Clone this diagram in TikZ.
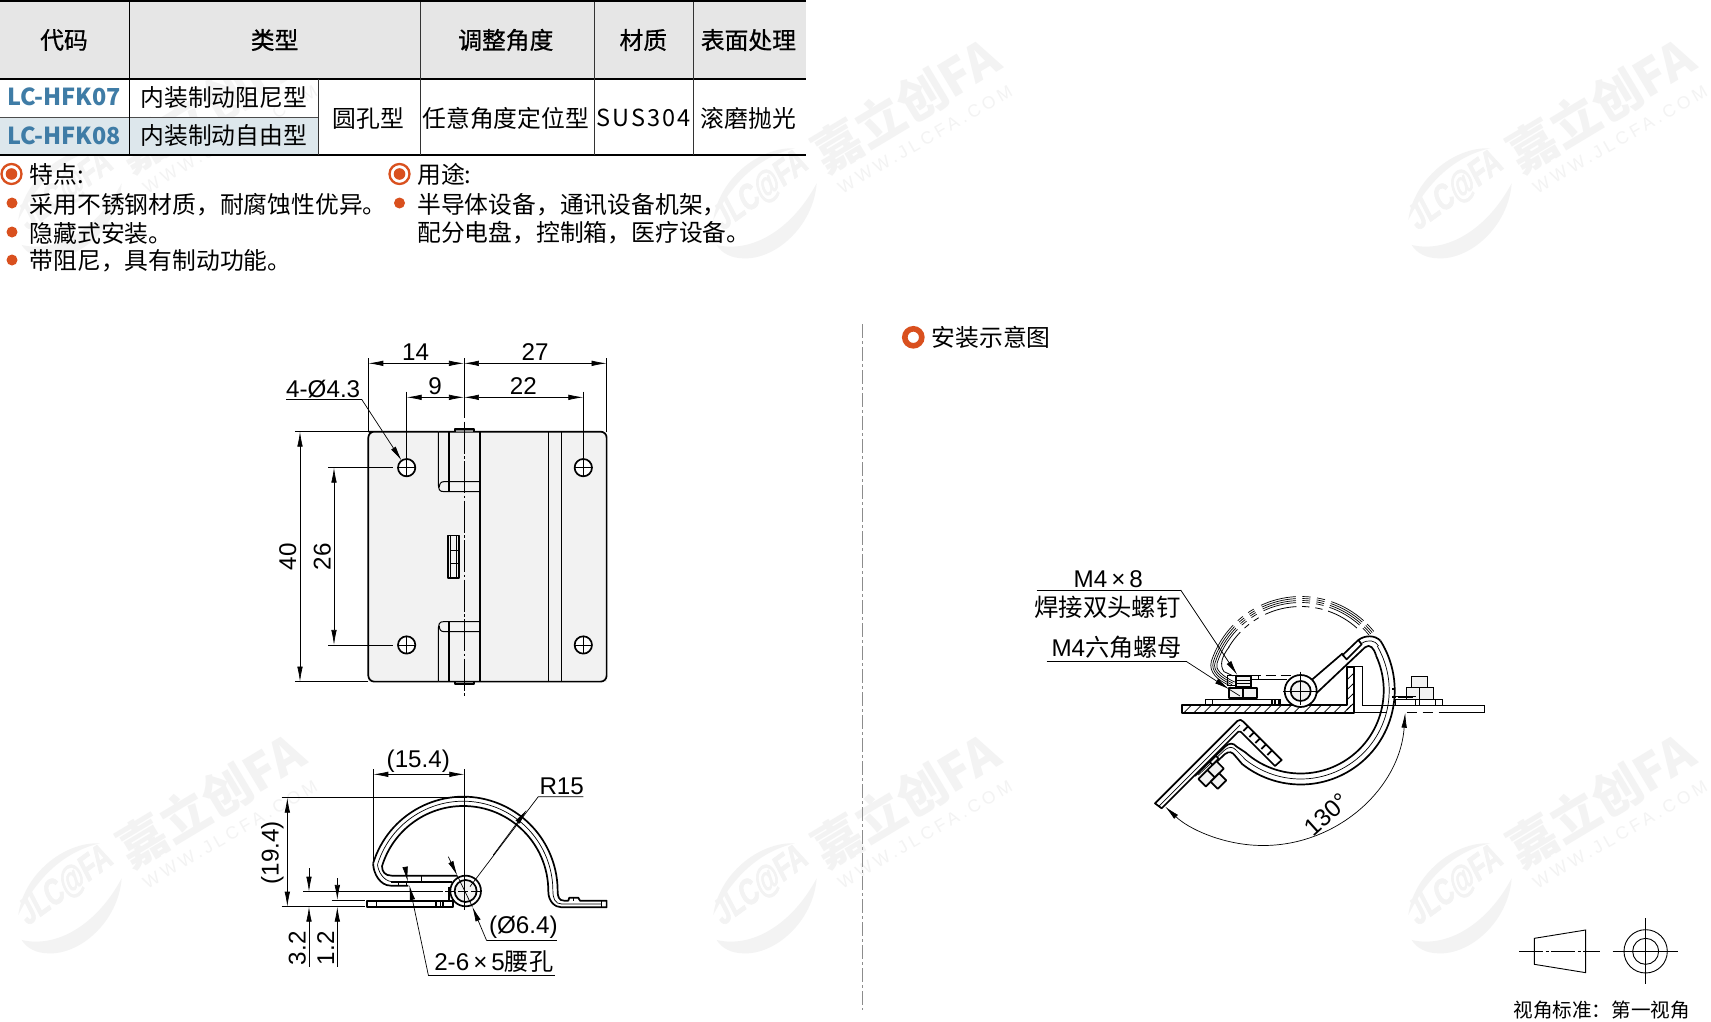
\documentclass[tikz,border=0pt]{standalone}
\usepackage{fontspec}
\setmainfont{Liberation Sans}
\newfontfamily\cjk{Noto Sans CJK SC}
\newfontfamily\cjkmed[FakeBold=0.7]{Noto Sans CJK SC}
\newfontfamily\cjkwide[LetterSpace=9]{Noto Sans CJK SC}
\newfontfamily\jlcfont[FakeStretch=0.72,FakeSlant=0.15,FakeBold=1.5]{Liberation Sans}
\newfontfamily\urlfont[LetterSpace=22]{Liberation Sans}
\usetikzlibrary{arrows.meta}
\definecolor{headgrey}{HTML}{E6E6E6}
\definecolor{rowblue}{HTML}{DDE7EC}
\definecolor{codeblue}{HTML}{3F7CA6}
\definecolor{dotorange}{HTML}{D9501E}
\definecolor{markgrey}{HTML}{F3F3F3}
\definecolor{platefill}{HTML}{F2F2F2}
\tikzset{
    zoomed/.style 2 args={shift={(#1,#2)},scale=0.3333},
    part/.style={line width=1.7pt,line join=round},
    thinpart/.style={line width=0.7pt},
    dimline/.style={line width=0.7pt},
    dimarrow/.style={dimline,-{Latex[length=15pt,width=5.5pt]}},
    dimboth/.style={dimline,{Latex[length=15pt,width=5.5pt]}-{Latex[length=15pt,width=5.5pt]}},
    dimtext/.style={inner sep=0pt,font=\fontsize{24.2}{24}\selectfont},
    cjktext/.style={inner sep=0pt,font=\cjk\fontsize{23.8}{24}\selectfont},
    labeltext/.style={inner sep=0pt,font=\cjk\fontsize{24.4}{25}\selectfont},
    headtext/.style={inner sep=0pt,font=\cjkmed\fontsize{23.8}{24}\selectfont},
    listtext/.style={cjktext,anchor=west},
    codetext/.style={inner sep=0pt,text=codeblue,font=\cjk\bfseries\fontsize{23.4}{24}\selectfont},
    listdot/.style={fill=dotorange,draw=none},
}
\newcommand{\jlcmark}[2]{%
    \begin{scope}[shift={(#1,#2)},scale=0.3333]
      \fill[markgrey] (85,600) .. controls (100,480) and (220,380) .. (330,385)
        .. controls (220,410) and (140,490) .. cycle;
      \fill[markgrey] (95,675) .. controls (200,700) and (320,630) .. (395,490)
        .. controls (385,620) and (270,720) .. (175,715)
        .. controls (140,715) and (110,700) .. cycle;
      \node[rotate=36,inner sep=0pt,text=markgrey,font=\jlcfont\bfseries\fontsize{36}{36}\selectfont] at (225,515) {JLC@FA};
      \node[rotate=31,inner sep=0pt,text=markgrey,font=\cjk\bfseries\fontsize{49}{49}\selectfont] at (662,256) {嘉立创FA};
      \node[rotate=30,inner sep=0pt,text=markgrey,font=\urlfont\fontsize{17.5}{18}\selectfont] at (720,358) {WWW.JLCFA.COM};
    \end{scope}%
}

\begin{document}
\begin{tikzpicture}[x=1pt,y=1pt,yscale=-1]
    \useasboundingbox (0,0) rectangle (1711,1022);
    \fill[white] (0,0) rectangle (1711,1022);
    % watermarks
    \foreach \wx in {-10,685,1380} {
      \foreach \wy in {20,715} {
        \jlcmark{\wx}{\wy}
      }
    }
    %
    % table
    \fill[headgrey] (0,2) rectangle (805.5,79);
    \fill[rowblue] (0,118) rectangle (318.5,155);
    \draw[line width=2pt] (0,1.5) -- (805.5,1.5);
    \draw[line width=2.4pt] (0,79) -- (805.5,79);
    \draw[line width=2pt] (0,155.5) -- (805.5,155.5);
    \draw[thinpart,black!70] (0,117.7) -- (318.5,117.7);
    \draw[line width=1.5pt] (129.7,2) -- (129.7,155);
    \foreach \cx in {420.5,594.7,693.5} {
      \draw[line width=0.8pt,black!80] (\cx,2) -- (\cx,155);
    }
    \draw[line width=0.8pt,black!80] (318.5,79) -- (318.5,155);
    %
    \node[headtext] (headcode) at (64,40) {代码};
    \node[headtext] (headtype) at (274.6,40) {类型};
    \node[headtext] (headangle) at (505.8,40) {调整角度};
    \node[headtext] (headmat) at (643.3,40) {材质};
    \node[headtext] (headsurf) at (748.4,40) {表面处理};
    \node[codetext] (codea) at (64,97) {LC-HFK07};
    \node[codetext] (codeb) at (64,135.5) {LC-HFK08};
    \node[cjktext] (typea) at (223.8,97.5) {内装制动阻尼型};
    \node[cjktext] (typeb) at (223.8,135.5) {内装制动自由型};
    \node[cjktext] (hole) at (368.2,118.5) {圆孔型};
    \node[cjktext] (angle) at (505.8,118.5) {任意角度定位型};
    \node[cjktext,font=\cjkwide\fontsize{23.5}{24}\selectfont] (mat) at (643.8,118) {SUS304};
    \node[cjktext] (surf) at (748.4,118.5) {滚磨抛光};
    %
    % feature lists
    \foreach \rx in {11.5,399.5} {
      \draw[dotorange,line width=2.3pt] (\rx,174) circle (10);
      \fill[dotorange] (\rx,174) circle (5.8);
    }
    \foreach \dx/\dy in {12/203,12/232,12/260,399.5/203} {
      \fill[listdot] (\dx,\dy) circle (5.5);
    }
    \node[listtext] (feat) at (29.5,174.5) {特点:};
    \node[listtext] (feata) at (29.5,204.5) {采用不锈钢材质，耐腐蚀性优异。};
    \node[listtext] (featb) at (29.5,233) {隐藏式安装。};
    \node[listtext] (featc) at (29.5,261) {带阻尼，具有制动功能。};
    \node[listtext] (usage) at (417,174.5) {用途:};
    \node[listtext] (usagea) at (417,204.5) {半导体设备，通讯设备机架，};
    \node[listtext] (usageb) at (417,233) {配分电盘，控制箱，医疗设备。};
    %
    % front view
    \begin{scope}[zoomed={260}{330}]
      \fill[platefill] (325,305) rectangle (1040,1055);
      \draw[part,rounded corners=6pt] (535,305) -- (345,305) -- (325,305) -- (325,1055) -- (535,1055);
      \draw[part,rounded corners=6pt] (535,305) -- (1040,305) -- (1040,1055) -- (535,1055);
      \draw[thinpart,line width=1pt] (535,305) -- (535,455) .. controls (535,480) and (538,485) .. (552,485) -- (660,485);
      \draw[thinpart,line width=1pt] (660,455) -- (552,455) .. controls (542,455) and (538,462) .. (538,472);
      \draw[thinpart,line width=1pt] (535,1055) -- (535,905) .. controls (535,880) and (538,875) .. (552,875) -- (660,875);
      \draw[thinpart,line width=1pt] (660,905) -- (552,905) .. controls (542,905) and (538,898) .. (538,888);
      \draw[part] (567,305) -- (567,485);
      \draw[part] (567,875) -- (567,1055);
      \draw[part] (660,305) -- (660,1055);
      \draw[thinpart] (865,305) -- (865,1055);
      \draw[part] (905,305) -- (905,1055);
      \draw[part,fill=black!45] (585,305) -- (585,298) -- (642,298) -- (642,305);
      \draw[part,fill=black!45] (585,1055) -- (585,1063) -- (642,1063) -- (642,1055);
      \draw[part] (565,617) rectangle (597,745);
      \draw[thinpart] (572,617) -- (572,745) (590,617) -- (590,745) (572,660) -- (597,660) (572,700) -- (597,700);
      \foreach \hx in {440,970} {
        \foreach \hy in {413,945} {
          \draw[part,fill=white] (\hx,\hy) circle (26);
          \draw[thinpart] (\hx,\hy-26) -- (\hx,\hy+26) (\hx-26,\hy) -- (\hx+26,\hy);
        }
      }
      % dimensions of the front view
      \draw[dimline] (612,85) -- (612,265);
      \draw[thinpart,dash pattern=on 32pt off 2.5pt on 2.5pt off 2.5pt] (612,275) -- (612,1100);
      \draw[dimline] (325,85) -- (325,305) (1040,85) -- (1040,305);
      \draw[dimline] (440,185) -- (440,390) (970,185) -- (970,390);
      \draw[dimline] (105,305) -- (325,305) (105,1055) -- (325,1055);
      \draw[dimline] (205,413) -- (400,413) (205,945) -- (400,945);
      \draw[dimboth] (325,100) -- (612,100);
      \draw[dimboth] (612,100) -- (1040,100);
      \draw[dimboth] (440,202) -- (612,202);
      \draw[dimboth] (612,202) -- (970,202);
      \draw[dimboth] (120,305) -- (120,1055);
      \draw[dimboth] (222,413) -- (222,945);
      \draw[dimline] (78,208) -- (305,208);
      \draw[dimarrow] (305,208) -- (425,392);
    \end{scope}
    \node[dimtext] (dimleft) at (415.7,352.2) {14};
    \node[dimtext] (dimright) at (535,352.2) {27};
    \node[dimtext] (dimholel) at (435,386.2) {9};
    \node[dimtext] (dimholer) at (523.3,386.2) {22};
    \node[dimtext] (dimholes) at (323.2,389.3) {4-Ø4.3};
    \node[dimtext,rotate=90] (dimheight) at (287.7,556.7) {40};
    \node[dimtext,rotate=90] (dimpitch) at (322.3,556.7) {26};
    %
    % side view
    \begin{scope}[zoomed={240}{730}]
      \draw[part] (399.4,400.3) arc[start angle=197,end angle=360,radius=283]
        .. controls (953,500) and (957,512) .. (972,512) -- (985,512) -- (988,503) -- (1015,503) -- (1020,512)
        -- (1100,512) -- (1100,532) -- (965,532) .. controls (945,532) and (925,515) .. (925,483)
        arc[start angle=360,end angle=197,radius=255]
        .. controls (426,425) and (435,437) .. (455,437) -- (652,437);
      \draw[thinpart] (412.5,404) arc[start angle=197,end angle=360,radius=269]
        .. controls (939,505) and (945,522) .. (965,522) -- (1085,522);
      \draw[part] (399.4,400.3) .. controls (400,430) and (420,467) .. (452,467) -- (505,467);
      \draw[thinpart] (412.5,404) .. controls (415,425) and (430,452) .. (455,455);
      \draw[part] (452,455) -- (636,455);
      \draw[thinpart] (475,455) -- (475,467) (500,455) -- (500,467) (545,437) -- (545,455);
      \draw[part] (382,512) rectangle (640,532);
      \draw[thinpart] (410,512) -- (410,532) (1085,512) -- (1085,532) (1000,503) -- (1000,512);
      \draw[part] (588,512) -- (588,532) (610,512) -- (610,532);
      \draw[thinpart] (600,512) -- (600,532);
      \draw[part] (628,470) -- (628,510);
      \draw[part,fill=white] (677,483) circle (46);
      \draw[part,fill=platefill] (677,483) circle (33);
      % dimensions of the side view
      \draw[dimline] (400,118) -- (400,400) (673,118) -- (673,540);
      \draw[dimline] (125,203) -- (680,203) (125,530) -- (375,530);
      \draw[dimline] (190,485) -- (610,485) (275,510) -- (375,510);
      \draw[dimline,dash pattern=on 10pt off 3pt] (615,485) -- (730,485);
      \draw[dimboth] (400,133) -- (673,133);
      \draw[dimboth] (142,203) -- (142,530);
      \draw[dimarrow] (207,415) -- (207,485);
      \draw[dimarrow] (207,710) -- (207,530);
      \draw[dimarrow] (292,445) -- (292,510);
      \draw[dimarrow] (292,710) -- (292,530);
      \draw[dimline] (1030,200) -- (895,200) -- (690,470);
      \draw[dimarrow] (760,375) -- (860,240);
      \draw[dimline] (950,632) -- (740,632);
      \draw[dimarrow] (740,632) -- (697,530);
      \draw[dimarrow] (625,380) -- (652,437);
      \draw[dimline] (652,437) -- (697,530);
      \draw[dimline] (945,735) -- (565,735);
      \draw[dimarrow] (565,735) -- (508,465);
      \draw[dimarrow] (497,420) -- (503,455);
    \end{scope}
    \node[dimtext] (dimwidth) at (418.3,761.5) {(15.4)};
    \node[dimtext,rotate=90] (dimtall) at (272.3,852.7) {(19.4)};
    \node[dimtext] (dimradius) at (561.7,786) {R15};
    \node[dimtext] (dimbore) at (523.3,927.7) {(Ø6.4)};
    \node[dimtext] (dimslot) at (493.8,961.7) {2-6\,×\,5{\cjk 腰孔}};
    \node[dimtext,rotate=90] (dimaxis) at (297.3,948.3) {3.2};
    \node[dimtext,rotate=90] (dimthick) at (325.7,948.3) {1.2};
    %
    % install section
    \draw[line width=0.6pt,black!45,dash pattern=on 14pt off 3pt on 3pt off 3pt] (862,324) -- (862,1010);
    \draw[dotorange,line width=5.6pt] (913.3,337.3) circle (8.5);
    \node[listtext] (install) at (931.5,337.5) {安装示意图};
    %
    \coordinate (pin) at (1300.7,690.5);
    % opened leaf, shown broken
    \foreach \ra in {94,92,90,88} {
      \foreach \sa/\ea in {198/224,228/232,236/240,245/267,271/276,280/285,289/312,315/321} {
        \draw[line width=0.7pt] (pin) ++(\sa:\ra) arc[start angle=\sa,end angle=\ea,radius=\ra];
      }
    }
    \foreach \sa/\ea in {211/224,228/232,236/240,245/267,271/276,280/285,289/312} {
      \draw[line width=0.8pt] (pin) ++(\sa:84) arc[start angle=\sa,end angle=\ea,radius=84];
    }
    \begin{scope}[zoomed={1020}{550}]
      \draw[line width=0.7pt] (574,334.5) .. controls (566,365) and (590,390) .. (632,408);
      \draw[line width=0.7pt] (580,336) .. controls (572,362) and (595,386) .. (636,404);
      \draw[line width=0.7pt] (585,338) .. controls (578,360) and (600,382) .. (640,400);
      \draw[line width=0.7pt] (591,340) .. controls (584,356) and (605,378) .. (644,396);
      \draw[line width=0.8pt] (628,290) .. controls (605,320) and (598,345) .. (612,365) -- (640,378);
    \end{scope}
    %
    % fixed base
    \fill[white] (1182,705) rectangle (1354,712.7);
    \foreach \hx in {1190,1200,...,1350} {
      \draw[line width=0.8pt] (\hx-6,712.7) -- (\hx+1.5,705);
    }
    \foreach \hy in {675,685,695,705} {
      \draw[line width=0.8pt] (1346.7,\hy+5) -- (1354,\hy-2);
    }
    \draw[part] (1182,705) -- (1346.7,705) -- (1346.7,666.7) -- (1354,666.7) -- (1354,712.7) -- (1182,712.7) -- cycle;
    % door side, thin lines
    \begin{scope}[zoomed={1230}{590}]
      \draw[thinpart] (372,230) -- (397,230) -- (397,345) -- (762,345) -- (762,368) -- (640,368);
      \draw[thinpart] (375,368) -- (470,368);
      \draw[thinpart,dash pattern=on 10pt off 6pt] (530,368) -- (640,368);
      \draw[thinpart,fill=platefill] (545,260) rectangle (592,292);
      \draw[thinpart,fill=platefill] (528,293) rectangle (610,327);
      \draw[thinpart] (568,293) -- (568,327);
      \draw[thinpart] (568,327) rectangle (638,345) (615,327) -- (615,345);
      \draw[thinpart] (497,318) -- (557,318) (505,322) -- (550,322);
      \draw[thinpart] (497,327) rectangle (557,345);
    \end{scope}
    % bolt and plate at the base
    \begin{scope}[zoomed={1150}{660}]
      \draw[thinpart,line width=1pt] (165,117) rectangle (390,133);
      \draw[thinpart] (187,117) -- (187,133) (392,133) -- (392,117);
      \draw[part] (365,117) -- (365,133) (376,117) -- (376,133) (388,117) -- (388,133);
      \draw[thinpart] (232,45) -- (232,75) -- (258,75);
      \draw[thinpart] (232,45) -- (302,45) (302,58) -- (410,58) (325,45) -- (325,58);
      \draw[thinpart,dash pattern=on 10pt off 5pt] (302,45) -- (430,45);
      \draw[part,fill=platefill] (258,47) rectangle (302,80);
      \draw[thinpart] (258,62) -- (302,62) (258,70) -- (302,70);
      \draw[part,fill=platefill] (238,83) rectangle (320,115);
      \draw[part] (280,83) -- (280,115);
    \end{scope}
    % moving leaf, closed
    \begin{scope}[zoomed={1230}{590}]
      \draw[part] (246,269) -- (338,190);
      \draw[part,fill=white] (338,195) -- (385,150) -- (395,163) -- (350,208) -- cycle;
      \draw[part] (259,310) -- (405,172) .. controls (420,160) and (432,175) .. (438,196);
      \draw[part] (385,150) .. controls (405,135) and (435,135) .. (451,152);
      \draw[thinpart] (395,160) .. controls (415,148) and (435,150) .. (446,168);
      \draw[part,fill=white] (212,303) circle (48);
      \draw[part,fill=platefill] (212,303) circle (30);
      \draw[thinpart] (212,245) -- (212,345) (160,303) -- (264,303);
      \draw[part] (487,298) -- (495,298) (487,320) -- (497,320);
    \end{scope}
    \draw[part] (pin) ++(-32:94) arc[start angle=-32,end angle=128,radius=94];
    \draw[thinpart] (pin) ++(-30:88.5) arc[start angle=-30,end angle=130,radius=88.5];
    \draw[part] (pin) ++(-25:83) arc[start angle=-25,end angle=132,radius=83];
    % leaf, open by the full angle
    \begin{scope}[zoomed={1130}{690}]
      \draw[part] (338,224) -- (315,197) .. controls (308,187) and (298,182) .. (285,192) -- (215,258);
      \draw[thinpart] (343,205) -- (318,180) .. controls (308,170) and (298,168) .. (282,182) -- (205,255);
      \draw[part] (346,187) -- (320,170) .. controls (310,158) and (298,158) .. (285,170) -- (195,258);
      \draw[part,fill=white] (75,340) -- (322,93) .. controls (328,88) and (335,88) .. (340,95) -- (455,210)
        -- (435,228) -- (340,133) .. controls (332,125) and (330,122) .. (325,125) -- (95,355) -- cycle;
      \draw[thinpart] (85,350) -- (330,105);
      \foreach \lk in {0,...,4} {
        \draw[part] ({355+18*\lk},{108+18*\lk}) -- ({340+18*\lk},{123+18*\lk});
      }
      \begin{scope}[shift={(232,240)},rotate=45]
        \draw[part,fill=platefill] (0,-38) rectangle (32,38);
        \draw[part] (0,0) -- (32,0);
        \draw[part,fill=platefill] (32,-18) rectangle (62,18);
        \draw[part,fill=platefill] (-12,-48) rectangle (0,-22);
      \end{scope}
    \end{scope}
    %
    % leaders of the install drawing
    \begin{scope}[zoomed={1020}{550}]
      \draw[dimline] (50,120) -- (482,120);
      \draw[dimarrow] (482,120) -- (652,375);
      \draw[dimline] (80,335) -- (500,335);
      \draw[dimarrow] (500,335) -- (628,418);
      \draw[dimline] (628,418) -- (660,438);
    \end{scope}
    \node[dimtext] (labelstud) at (1108.3,579) {M4\,×\,8};
    \node[labeltext] (labelweld) at (1107.5,607.5) {焊接双头螺钉};
    \node[dimtext] (labelnut) at (1116.7,647) {M4{\cjk 六角螺母}};
    %
    \coordinate (swing) at (1263,703);
    \draw[dimboth] (swing) ++(3.9:142.5) arc[start angle=3.9,end angle=133.4,radius=142.5];
    \node[dimtext,rotate=42] (labelangle) at (1326.7,815) {130°};
    %
    % projection symbol
    \begin{scope}[zoomed={1490}{900}]
      \draw[thinpart,line width=0.9pt] (133,115) -- (287,90) -- (287,218) -- (133,193) -- cycle;
      \draw[thinpart,dash pattern=on 24pt off 2.5pt on 3pt off 2.5pt] (87,154) -- (330,154);
      \draw[thinpart,line width=0.9pt] (467,154) circle (65) (467,154) circle (39);
      \draw[thinpart] (467,55) -- (467,252) (368,154) -- (565,154);
    \end{scope}
    \node[inner sep=0pt,font=\cjk\fontsize{19.6}{20}\selectfont] (viewlabel) at (1601.7,1009.8) {视角标准：第一视角};
  \end{tikzpicture}
\end{document}
